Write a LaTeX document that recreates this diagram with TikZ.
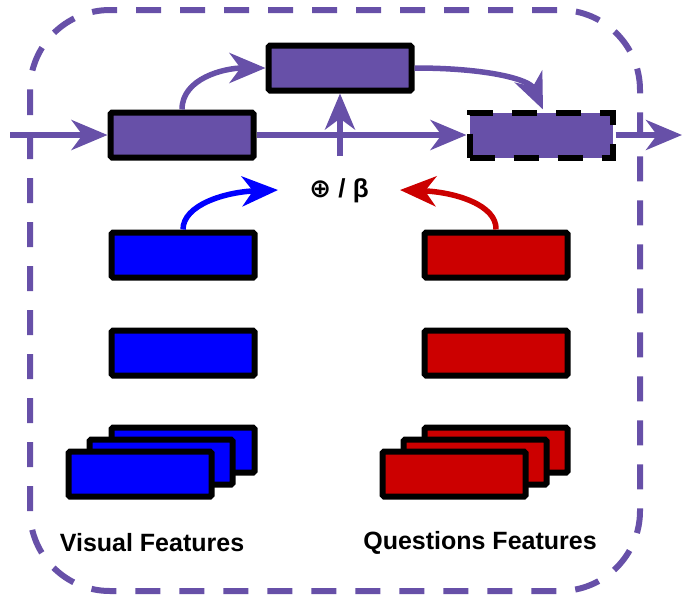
\documentclass[tikz,border=0pt]{standalone}
\usepackage{fontspec}
\setmainfont{Liberation Sans}
\newfontfamily\djv{DejaVu Sans}
\usetikzlibrary{arrows.meta}
\definecolor{vio}{RGB}{103,80,168}
\definecolor{vblue}{RGB}{0,0,255}
\definecolor{vred}{RGB}{204,0,0}
\begin{document}
\begin{tikzpicture}[x=1pt,y=-1pt,
  tip/.style={-{Stealth[length=36pt,width=30pt,inset=11pt]}},
  flow/.style={draw=vio,line width=5.5pt,tip},
  feat/.style={draw=black,line width=6pt,rounded corners=1.5pt,minimum width=143pt,minimum height=45pt,inner sep=0pt},
  pbox/.style={feat,fill=vio},
  bbox/.style={feat,fill=vblue},
  rbox/.style={feat,fill=vred},
  lab/.style={font=\bfseries\fontsize{25}{28}\selectfont,inner sep=0pt}
  ]
\useasboundingbox (0,0) rectangle (682,600);
% frame
\draw[vio,line width=6pt,dash pattern=on 25pt off 19pt,rounded corners=80pt] (30,10) rectangle (640,591);
% purple boxes
\node[pbox] (enc) at (182,135) {};
\node[pbox] (mid) at (340,68) {};
\node[pbox,minimum width=143pt,dash pattern=on 25pt off 19pt,rounded corners=0pt] (out) at (541,135) {};
\coordinate (in) at (10,135);
\coordinate (end) at (682,135);
\coordinate (vb) at (340,156);
\draw[flow] (in) -- (enc.west);
\draw[flow] (enc.east) -- (out.west);
\draw[flow] (out.east) -- (end);
\draw[flow] (vb) -- (mid.south);
\draw[flow] (enc.north) .. controls (182,78) and (225,68) .. (mid.west);
\draw[flow] (mid.east) .. controls (490,68) and (530,80) .. ([xshift=2pt]out.north);
% label
\node[lab,font=\bfseries\fontsize{26}{28}\selectfont] (op) at (339,191) {{\djv\bfseries ⊕} / β};
% feature boxes
\node[bbox] (b1) at (183,255) {};
\node[bbox] (b2) at (183,353) {};
\node[bbox] (b3) at (183,450) {};
\node[bbox] (b4) at (161,462) {};
\node[bbox] (b5) at (140,474) {};
\node[rbox] (r1) at (496,255) {};
\node[rbox] (r2) at (496,353) {};
\node[rbox] (r3) at (496,450) {};
\node[rbox] (r4) at (475,462) {};
\node[rbox] (r5) at (454,474) {};
\coordinate (bt) at (278,190);
\coordinate (rt) at (400,190);
\draw[vblue,line width=5.5pt,tip] (b1.north) .. controls (183,205) and (225,192) .. (bt);
\draw[vred,line width=5.5pt,tip] (r1.north) .. controls (497,205) and (455,192) .. (rt);
\node[lab] (vf) at (152,543) {Visual Features};
\node[lab] (qf) at (480,543) {Questions Features};
\end{tikzpicture}
\end{document}
